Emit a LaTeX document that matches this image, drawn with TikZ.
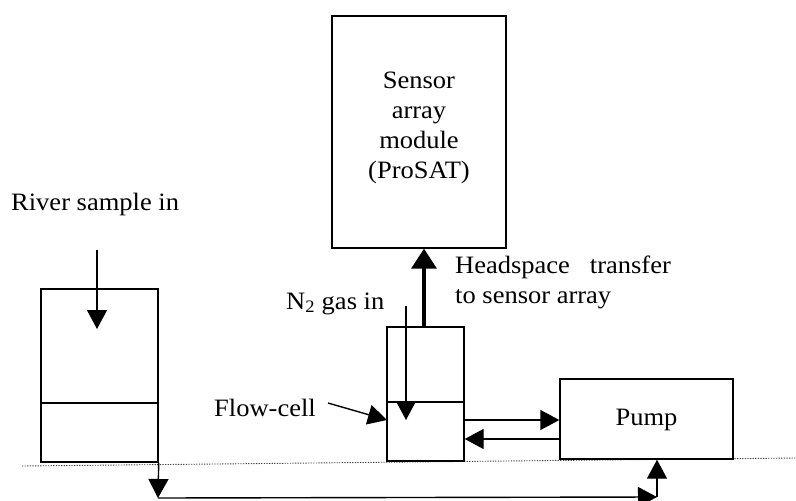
\documentclass[tikz,border=0pt]{standalone}
\usepackage{fontspec}
\setmainfont{Liberation Serif}[FakeStretch=1.06]
\usetikzlibrary{arrows.meta}
\begin{document}
\begin{tikzpicture}[x=1pt,y=-1pt,
  box/.style={draw,line width=1.4pt,inner sep=0pt,rectangle},
  lbl/.style={inner sep=0pt,font=\fontsize{25}{29.7}\selectfont},
  flow/.style={line width=1.4pt,-{Triangle[length=19pt,width=20pt]}},
  thickflow/.style={line width=3.6pt,-{Triangle[length=20pt,width=25pt]}},
  plain/.style={line width=1.4pt}]
\useasboundingbox (0,0) rectangle (796,501);
% dotted ground line
\draw[line width=0.9pt,dash pattern=on 1.3pt off 1.3pt,black!75] (22,466) -- (796,458);
% boxes
\node[box,minimum width=117pt,minimum height=173pt] (tank) at (99.5,375.5) {};
\node[box,minimum width=77pt,minimum height=134pt] (cell) at (425.5,394) {};
\node[box,minimum width=174pt,minimum height=232pt] (sensor) at (419,132) {};
\node[box,minimum width=173pt,minimum height=80pt] (pump) at (646.5,419) {};
% dividers
\draw[plain] (tank.west |- 0,403) -- (tank.east |- 0,403);
\draw[plain] (cell.west |- 0,402) -- (cell.east |- 0,402);
% texts
\node[lbl,anchor=base,align=center] (sensortxt) at (419,178) {Sensor\\array\\module\\(ProSAT)};
\node[lbl,anchor=base] (pumptxt) at (646.5,425) {Pump};
\node[lbl,anchor=base west] (river) at (11,210) {River sample in};
\node[lbl,anchor=base west,align=left] (head) at (455,303) {Headspace\hspace{20pt}transfer\\to sensor array};
\node[lbl,anchor=base west] (n2) at (286,309) {N\textsubscript{2} gas in};
\node[lbl,anchor=base west] (fc) at (214,416) {Flow-cell};
% coordinates
\coordinate (riverin) at (97,250);
\coordinate (tankarr) at (97,329);
\coordinate (n2start) at (406,306);
\coordinate (n2end) at (406,420);
\coordinate (fctail) at (328,403);
\coordinate (fctip) at (387,420);
\coordinate (tankout) at (158,498);
\coordinate (corner) at (657,497);
% arrows
\draw[flow] (riverin) -- (tankarr);
\draw[flow] (n2start) -- (n2end);
\draw[thickflow] (cell.north -| 424,0) -- (sensor.south -| 424,0);
\draw[flow] (fctail) -- (fctip);
\draw[flow] (cell.east |- 0,420) -- (pump.west |- 0,420);
\draw[flow] (pump.west |- 0,439) -- (cell.east |- 0,439);
\draw[flow] (tank.south east) -- (tankout);
\draw[flow] (tankout) -- (corner);
\draw[flow] (corner) -- (pump.south -| corner);
\end{tikzpicture}
\end{document}
